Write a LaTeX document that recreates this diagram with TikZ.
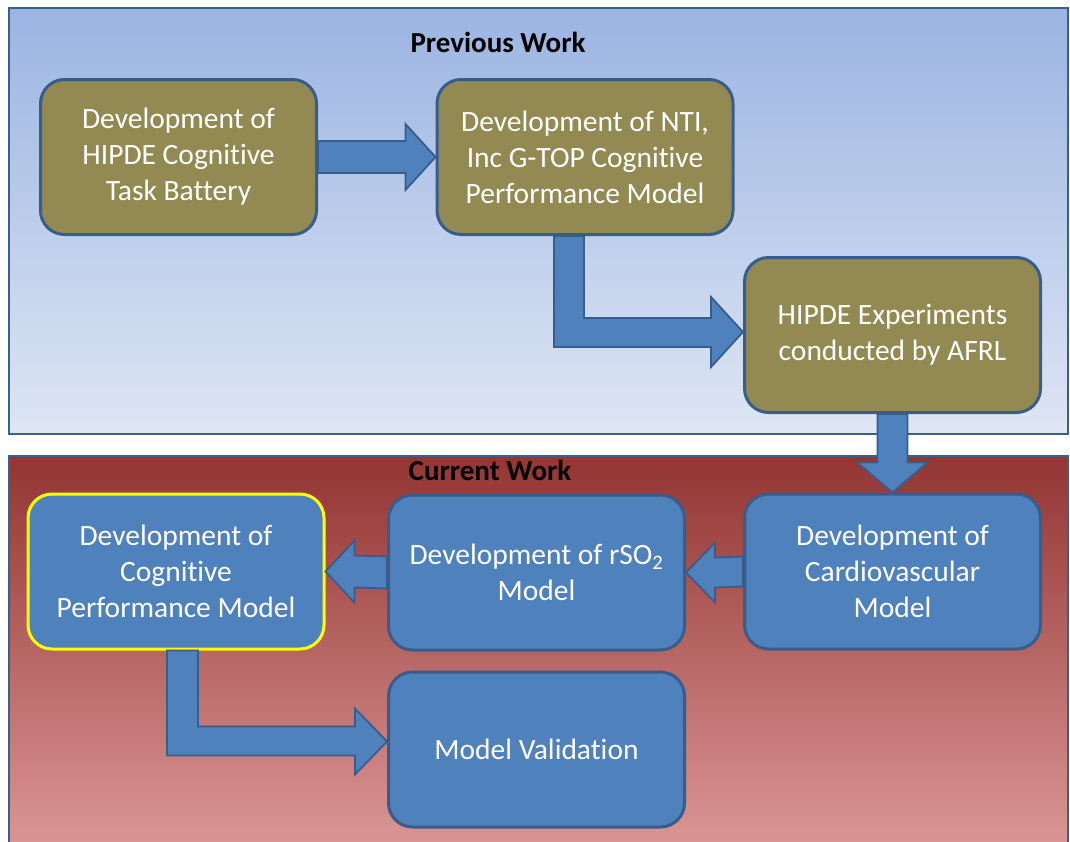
\documentclass[tikz,border=0pt]{standalone}
\usepackage{fontspec}
\setmainfont{Carlito}[Ligatures=NoCommon]
\usetikzlibrary{calc}
\definecolor{boxolive}{HTML}{938953}
\definecolor{boxblue}{HTML}{4F81BD}
\definecolor{boxline}{HTML}{385D8A}
\definecolor{panelline}{HTML}{3A5F8B}
\definecolor{prevtop}{HTML}{9BB4E2}
\definecolor{prevbot}{HTML}{DEE6F4}
\definecolor{curtop}{HTML}{933533}
\definecolor{curbot}{HTML}{DA9695}
\definecolor{hiyellow}{HTML}{FFFF00}
\begin{document}
\begin{tikzpicture}[x=1pt,y=-1pt,
  panel/.style={draw=panelline, line width=2.5pt},
  box/.style={rounded corners=24pt, line width=3pt, draw=boxline, align=center,
    text=white, font=\fontsize{29.5}{36}\selectfont, inner sep=0pt,
    minimum width=296pt, minimum height=155pt},
  prevbox/.style={box, fill=boxolive},
  curbox/.style={box, fill=boxblue},
  blockarrow/.style={fill=boxblue, draw=boxline, line width=1.8pt, line join=miter},
  paneltitle/.style={font=\fontsize{29}{32}\selectfont\bfseries, text=black, inner sep=0pt}]
\useasboundingbox (0,0) rectangle (1070,841);
\fill[white] (0,0) rectangle (1070,841);
% panels
\draw[panel, top color=prevtop, bottom color=prevbot] (9,8) rectangle (1068,434);
\draw[panel, top color=curtop, bottom color=curbot] (9,456) rectangle (1068,846);
\node[paneltitle] (t1) at (498,42) {Previous Work};
\node[paneltitle] (t2) at (490,470) {Current Work};
% boxes
\node[prevbox, minimum width=276pt] (A) at (178.5,157) {Development of\\HIPDE Cognitive\\Task Battery};
\node[prevbox] (B) at (585,157) {Development of NTI,\\Inc G-TOP Cognitive\\Performance Model};
\node[prevbox] (C) at (892.5,335) {HIPDE Experiments\\conducted by AFRL};
\node[curbox, draw=hiyellow] (D) at (176,571.5) {Development of\\Cognitive\\Performance Model};
\node[curbox] (E) at (536.5,572.5) {Development of rSO\textsubscript{2}\\Model};
\node[curbox] (F) at (892.5,571.5) {Development of\\Cardiovascular\\Model};
\node[curbox] (G) at (536.5,749.5) {Model Validation};
% block arrows
\draw[blockarrow] ($(A.east)+(0,-16)$) -- ($(B.west)+(-30,-16)$) -- ++(0,-17)
  -- (B.west) -- ($(B.west)+(-30,33)$) -- ++(0,-17) -- ($(A.east)+(0,16)$) -- cycle;
\draw[blockarrow] ($(B.south)+(-31,0)$) |- ($(C.west)+(-32,12)$) -- ++(0,20)
  -- ($(C.west)+(0,-3)$) -- ($(C.west)+(-32,-38)$) -- ++(0,21) -| ($(B.south)+(-1,0)$) -- cycle;
\draw[blockarrow] ($(C.south)+(-15,0)$) -- ($(F.north)+(-15,-30)$) -- ++(-20,0)
  -- (F.north) -- ($(F.north)+(35,-30)$) -- ++(-20,0) -- ($(C.south)+(15,0)$) -- cycle;
\draw[blockarrow] ($(F.west)+(0,-15)$) -- ($(E.east)+(29,-15)$) -- ++(0,-15)
  -- (E.east) -- ($(E.east)+(29,30)$) -- ++(0,-15) -- ($(F.west)+(0,15)$) -- cycle;
\draw[blockarrow] ($(E.west)+(0,-16)$) -- ($(D.east)+(29,-16)$) -- ++(0,-15)
  -- (D.east) -- ($(D.east)+(29,31)$) -- ++(0,-15) -- ($(E.west)+(0,16)$) -- cycle;
\draw[blockarrow] ($(D.south)+(-9,0)$) |- ($(G.west)+(-32,6)$) -- ++(0,19)
  -- ($(G.west)+(0,-8)$) -- ($(G.west)+(-32,-41)$) -- ++(0,18) -| ($(D.south)+(22,0)$) -- cycle;
\end{tikzpicture}
\end{document}
